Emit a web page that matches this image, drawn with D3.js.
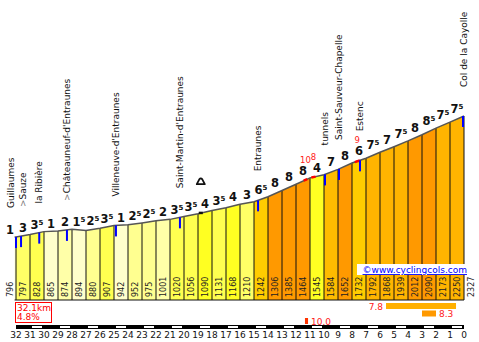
<!DOCTYPE html>
<html>
<head>
<meta charset="utf-8">
<script src="https://cdn.jsdelivr.net/npm/d3@7"></script>
<style>
body { margin: 0; background: #fff; }
svg { display: block; font-family: "DejaVu Sans", Verdana, sans-serif; }
</style>
</head>
<body>
<svg></svg>
<script>
var width = 479;
var height = 342;

// km to go at each point, and the elevation (m) there
var kmToGo = [32.1, 32, 31, 30, 29, 28, 27, 26, 25, 24, 23, 22, 21, 20, 19, 18, 17,
              16, 15, 14, 13, 12, 11, 10, 9, 8, 7, 6, 5, 4, 3, 2, 1, 0];
var elevations = [796, 797, 828, 865, 874, 894, 880, 907, 942, 952, 975, 1001, 1020,
                  1056, 1090, 1131, 1168, 1210, 1242, 1306, 1385, 1464, 1545, 1584,
                  1652, 1732, 1792, 1868, 1939, 2012, 2090, 2173, 2250, 2327];
// gradient printed above each segment
var gradeLabels = [1, 3, 3.5, 1, 2, 1.5, 2.5, 3.5, 1, 2.5, 2.5, 2, 3.5, 3.5, 4, 3.5, 4,
                   3, 6.5, 8, 8, 8, 4, 7, 8, 6, 7.5, 7, 7.5, 8, 8.5, 7.5, 7.5];

var placeNames = ["Guillaumes", ">Sauze", "la Ribière", ">Châteauneuf-d'Entraunes",
                  "Villeneuve-d'Entraunes", "Saint-Martin-d'Entraunes", "Entraunes",
                  "tunnels", "Saint-Sauveur-Chapelle", "Estenc", "Col de la Cayolle"];
var placeKm = [32.0, 31.64, 30.34, 28.36, 24.86, 20.29, 14.71, 9.93, 8.93, 7.43, 0];

// short steep bits marked in red on the line
var steepPct = ["10", "8", "9"];
var steepFrom = [11.45, 10.9, 7.8];
var steepTo = [11.2, 10.6, 7.45];

var poiKm = [18.8];

// steepest 5 km, 1 km and 100 m
var maxLabels = ["7.8", "8.3", "10.0"];
var maxFrom = [5.57, 3.0, 11.36];
var maxTo = [0.57, 2.0, 11.14];

var totalKm = "32.1km";
var avgGrade = "4.8%";
var rulerKm = d3.range(32, -1, -1);

var svg = d3.select('svg')
	.attr('width', width)
	.attr('height', height);

var x = d3.scaleLinear().domain([32, 0]).range([16, 464]);
var y = d3.scaleLinear().domain([797, 2327]).range([237, 116]);
var elevAt = d3.scaleLinear().domain(kmToGo).range(elevations);
var bottom = 300;

var color = d3.scaleThreshold()
	.domain([1.5, 2.25, 2.75, 3.25, 3.75, 4.5, 6, 6.5, 7, 7.75])
	.range(['#ffffcc', '#ffffa8', '#ffff90', '#ffff66', '#ffff50', '#ffff22',
	        '#ffee00', '#ffcc00', '#ffbb00', '#ffb400', '#ff9900']);

var segs = d3.range(kmToGo.length - 1).map(i => ({
	k0: kmToGo[i], k1: kmToGo[i + 1],
	e0: elevations[i], e1: elevations[i + 1],
	g: (elevations[i + 1] - elevations[i]) / ((kmToGo[i] - kmToGo[i + 1]) * 10),
	label: gradeLabels[i]
}));

// bars
svg.append('g').selectAll('path')
	.data(segs)
	.enter().append('path')
	.attr('d', d => 'M' + x(d.k0) + ',' + bottom + 'L' + x(d.k0) + ',' + y(d.e0) +
		'L' + x(d.k1) + ',' + y(d.e1) + 'L' + x(d.k1) + ',' + bottom + 'Z')
	.attr('fill', d => color(d.g));

svg.append('g').selectAll('line')
	.data(kmToGo.slice(1))
	.enter().append('line')
	.attr('x1', d => x(d)).attr('x2', d => x(d))
	.attr('y1', d => y(elevAt(d))).attr('y2', bottom)
	.attr('stroke', '#111').attr('stroke-width', 1);

svg.append('line')
	.attr('x1', x(32.1)).attr('x2', x(0))
	.attr('y1', bottom).attr('y2', bottom)
	.attr('stroke', '#111');

svg.append('path')
	.datum(kmToGo)
	.attr('d', d3.line().x(d => x(d)).y(d => y(elevAt(d))))
	.attr('fill', 'none')
	.attr('stroke', '#555')
	.attr('stroke-width', 1.5);

// red steep bits
svg.append('g').selectAll('path')
	.data(steepPct)
	.enter().append('path')
	.attr('d', (d, i) => d3.line().x(k => x(k)).y(k => y(elevAt(k)))([steepFrom[i], steepTo[i]]))
	.attr('stroke', '#ff0000').attr('stroke-width', 2.5).attr('fill', 'none');

// push labels left when they crowd
function spread(xs, gap) {
	for (var i = xs.length - 2; i >= 0; i--) {
		if (xs[i + 1] - xs[i] < gap) xs[i] = xs[i + 1] - gap;
	}
	return xs;
}

// gradient labels
var gx = spread(segs.map(d => (x(d.k0) + x(d.k1)) / 2), 13);
var gl = svg.append('g').selectAll('text')
	.data(segs)
	.enter().append('text')
	.attr('x', (d, i) => gx[i])
	.attr('y', d => y(Math.max(d.e0, d.e1)) - 3)
	.attr('text-anchor', 'middle')
	.attr('font-size', 11.5)
	.attr('font-weight', 'bold')
	.attr('fill', '#111');
gl.append('tspan').text(d => Math.floor(d.label));
gl.filter(d => d.label % 1 !== 0)
	.append('tspan')
	.attr('font-size', 7)
	.attr('dy', -4)
	.text('5');

// red steep labels
svg.append('g').selectAll('text')
	.data(steepPct)
	.enter().append('text')
	.attr('x', (d, i) => x((steepFrom[i] + steepTo[i]) / 2))
	.attr('y', (d, i) => {
		var s = segs.find(g => g.k0 >= steepFrom[i] && g.k1 < steepFrom[i]);
		return y(Math.max(s.e0, s.e1)) - 15;
	})
	.attr('text-anchor', 'middle')
	.attr('font-size', 8.5)
	.attr('fill', '#ff2020')
	.text(d => d);

// elevation labels
var ex = spread(kmToGo.map(k => x(k) + 7), 13);
svg.append('g').selectAll('text')
	.data(elevations)
	.enter().append('text')
	.attr('transform', (d, i) => 'translate(' + ex[i] + ',' + (bottom - 3) + ') rotate(-90)')
	.attr('dy', '0.36em')
	.attr('font-size', 8)
	.attr('fill', '#222')
	.text(d => d);

// places
var px = spread(placeKm.map(k => x(k)), 9);
var places = svg.append('g');
places.selectAll('line')
	.data(placeKm)
	.enter().append('line')
	.attr('x1', d => Math.min(x(d), 463)).attr('x2', d => Math.min(x(d), 463))
	.attr('y1', d => y(elevAt(d)))
	.attr('y2', d => y(elevAt(d)) + 11)
	.attr('stroke', '#0000ff')
	.attr('stroke-width', 2);
var pt = places.selectAll('text')
	.data(placeNames)
	.enter().append('text')
	.attr('transform', (d, i) => 'translate(' + (i === 0 ? px[i] - 1 : i === 1 ? px[i] + 2 : px[i]) + ',' +
		(y(elevAt(placeKm[i])) - 29) + ') rotate(-90)')
	.attr('dy', '0.36em')
	.attr('font-size', 9)
	.attr('fill', '#111');
pt.filter(d => d[0] === '>').append('tspan').attr('fill', '#777').text('>');
pt.append('tspan').text(d => d.replace('>', ''));

// point of interest: small block on the line and a dome sign above
poiKm.forEach(k => {
	var cx = x(k), cy = y(elevAt(k));
	svg.append('rect')
		.attr('x', cx - 2).attr('y', cy - 1.5)
		.attr('width', 4).attr('height', 2.5)
		.attr('fill', '#111');
	var base = cy - 29, top = cy - 35;
	svg.append('path')
		.attr('d', 'M' + (cx - 4) + ',' + base + 'L' + (cx - 1.5) + ',' + (top + 1.2) +
			'Q' + cx + ',' + (top - 0.8) + ' ' + (cx + 1.5) + ',' + (top + 1.2) +
			'L' + (cx + 4) + ',' + base + 'Z')
		.attr('fill', 'none')
		.attr('stroke', '#111')
		.attr('stroke-width', 1.8)
		.attr('stroke-linejoin', 'round');
});

// copyright
svg.append('rect')
	.attr('x', 357).attr('y', 264).attr('width', 111).attr('height', 11)
	.attr('fill', '#fff');
svg.append('text')
	.attr('x', 467).attr('y', 273)
	.attr('text-anchor', 'end')
	.attr('font-size', 9)
	.attr('fill', '#0000ff')
	.attr('text-decoration', 'underline')
	.text('©www.cyclingcols.com');

// length / average box
svg.append('rect')
	.attr('x', 15.5).attr('y', 302.5).attr('width', 36).attr('height', 20)
	.attr('fill', '#fff').attr('stroke', '#ff0000');
svg.append('text').attr('x', 17).attr('y', 311).attr('font-size', 9)
	.attr('fill', '#ff0000').text(totalKm);
svg.append('text').attr('x', 17).attr('y', 320).attr('font-size', 9)
	.attr('fill', '#ff0000').text(avgGrade);

// steepest sections
var maxColor = ['#ffb000', '#ff9900', '#ff3300'];
maxLabels.forEach((lab, i) => {
	var x0 = x(maxFrom[i]), x1 = Math.max(x(maxTo[i]), x0 + 3);
	var top = 303 + i * 7.5;
	svg.append('rect')
		.attr('x', x0).attr('y', top)
		.attr('width', x1 - x0).attr('height', 6)
		.attr('fill', maxColor[i]);
	var left = x1 + 22 > 470;
	svg.append('text')
		.attr('x', left ? x0 - 3 : x1 + 3)
		.attr('y', top + 6.5)
		.attr('text-anchor', left ? 'end' : 'start')
		.attr('font-size', 9)
		.attr('fill', '#ff2020')
		.text(lab);
});

// km ruler
var ruler = svg.append('g');
ruler.append('rect')
	.attr('x', x(32)).attr('y', 325)
	.attr('width', x(0) - x(32)).attr('height', 4)
	.attr('fill', '#000');
ruler.selectAll('rect.dash')
	.data(rulerKm.filter(k => k % 2 === 1))
	.enter().append('rect')
	.attr('class', 'dash')
	.attr('x', d => x(d) + 2).attr('y', 326)
	.attr('width', x(0) - x(1) - 4).attr('height', 2)
	.attr('fill', '#fff');
ruler.selectAll('text')
	.data(rulerKm)
	.enter().append('text')
	.attr('x', d => x(d))
	.attr('y', 338)
	.attr('text-anchor', 'middle')
	.attr('font-size', 9)
	.attr('fill', '#111')
	.text(d => d);
</script>
</body>
</html>
